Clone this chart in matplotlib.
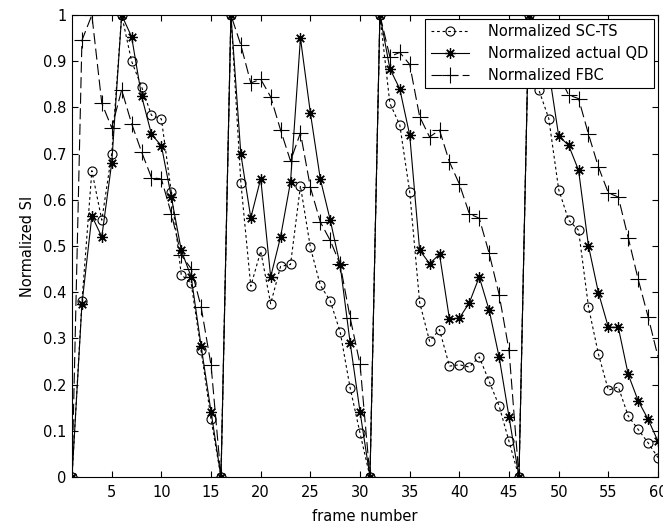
import matplotlib
matplotlib.use('Agg')
import matplotlib.pyplot as plt

plt.rcParams['font.family'] = ['DejaVu Sans']

frames = list(range(1, 61))

# normalized SC-TS (dotted, circles)
sc_ts = [0, 0.38, 0.663, 0.556, 0.70, 1.0, 0.90, 0.845, 0.783, 0.775, 0.616, 0.438, 0.419, 0.274, 0.125, 0,
         1.0, 0.637, 0.413, 0.489, 0.375, 0.456, 0.460, 0.630, 0.497, 0.415, 0.381, 0.314, 0.193, 0.095, 0,
         1.0, 0.809, 0.762, 0.617, 0.378, 0.294, 0.319, 0.240, 0.243, 0.238, 0.260, 0.207, 0.154, 0.077, 0,
         1.0, 0.838, 0.776, 0.622, 0.556, 0.534, 0.368, 0.266, 0.188, 0.195, 0.132, 0.103, 0.074, 0.042]

# normalized actual QD (solid, asterisks)
actual_qd = [0, 0.374, 0.565, 0.520, 0.680, 1.0, 0.953, 0.825, 0.742, 0.717, 0.606, 0.491, 0.433, 0.283, 0.141, 0,
             1.0, 0.699, 0.561, 0.646, 0.433, 0.520, 0.639, 0.950, 0.788, 0.645, 0.556, 0.458, 0.291, 0.141, 0,
             1.0, 0.884, 0.840, 0.740, 0.491, 0.462, 0.482, 0.342, 0.344, 0.377, 0.433, 0.361, 0.260, 0.130, 0,
             1.0, 0.95, 0.88, 0.738, 0.718, 0.664, 0.500, 0.399, 0.324, 0.324, 0.222, 0.165, 0.125, 0.077]

# normalized FBC (dashed, plus)
fbc = [0, 0.945, 1.0, 0.809, 0.756, 0.838, 0.765, 0.704, 0.648, 0.645, 0.570, 0.480, 0.451, 0.368, 0.242, 0,
       1.0, 0.935, 0.853, 0.861, 0.823, 0.751, 0.684, 0.745, 0.627, 0.552, 0.512, 0.460, 0.345, 0.244, 0,
       1.0, 0.910, 0.919, 0.893, 0.780, 0.736, 0.751, 0.682, 0.634, 0.570, 0.560, 0.484, 0.395, 0.274, 0,
       1.0, 0.96, 0.92, 0.87, 0.827, 0.819, 0.742, 0.671, 0.615, 0.606, 0.518, 0.428, 0.347, 0.260]

x_ticks = [5, 10, 15, 20, 25, 30, 35, 40, 45, 50, 55, 60]
y_ticks = [0, 0.1, 0.2, 0.3, 0.4, 0.5, 0.6, 0.7, 0.8, 0.9, 1]
y_labels = ['0', '0.1', '0.2', '0.3', '0.4', '0.5', '0.6', '0.7', '0.8', '0.9', '1']

fig = plt.figure(figsize=(6.63, 5.25), dpi=100)
ax = fig.add_axes([0.1086, 0.0914, 0.8839, 0.88])

ax.plot(frames, sc_ts, color='black', lw=0.8, linestyle=(0, (2.5, 2.5)),
        marker='o', markersize=6.5, markerfacecolor='none', markeredgewidth=0.8,
        label='Normalized SC-TS')
ax.plot(frames, actual_qd, color='black', lw=0.8, linestyle='-',
        marker=(8, 2, 0), markersize=7.5, markeredgewidth=0.9,
        label='Normalized actual QD')
ax.plot(frames, fbc, color='black', lw=0.8, linestyle=(0, (10, 4)),
        marker='+', markersize=11, markeredgewidth=0.8,
        label='Normalized FBC')

ax.set_xlim(1, 60)
ax.set_ylim(0, 1)
ax.set_xticks(x_ticks)
ax.set_yticks(y_ticks)
ax.set_yticklabels(y_labels)
ax.tick_params(direction='in', top=True, right=True, length=4, width=0.8,
               labelsize=10.5, colors='black')
ax.tick_params(axis='x', pad=6)
ax.tick_params(axis='y', pad=4)
for s in ax.spines.values():
    s.set_linewidth(0.8)

ax.set_xlabel('frame number', fontsize=10.5, labelpad=6)
ax.set_ylabel('Normalized SI', fontsize=10.5, labelpad=6)

leg = ax.legend(loc='upper right', fontsize=10.5, fancybox=False, framealpha=1,
                edgecolor='black', borderaxespad=0.25, handlelength=2.6,
                handletextpad=1.3, borderpad=0.4, labelspacing=0.45)
leg.get_frame().set_linewidth(0.8)

fig.savefig('out.png', dpi=100)
